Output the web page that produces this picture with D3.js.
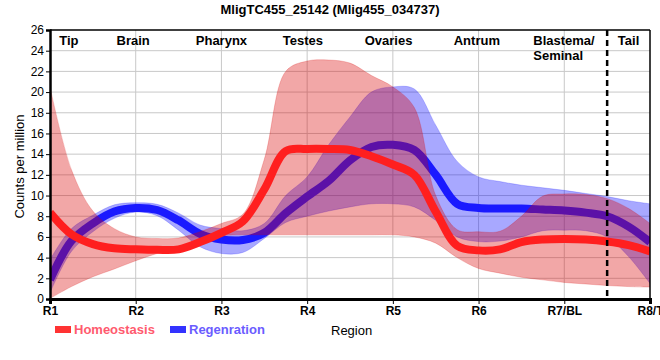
<!DOCTYPE html>
<html>
<head>
<meta charset="utf-8">
<script src="https://cdn.jsdelivr.net/npm/d3@7"></script>
<style>
  html, body { margin: 0; padding: 0; background: #fff; }
  svg { display: block; font-family: "Liberation Sans", Arial, sans-serif; }
</style>
</head>
<body>
<svg id="chart" width="660" height="360"></svg>
<script>
// ---------------- data ----------------
const title = "MligTC455_25142 (Mlig455_034737)";
const categories = ["R1", "R2", "R3", "R4", "R5", "R6", "R7/BL", "R8/T"];
const regionNames = ["Tip", "Brain", "Pharynx", "Testes", "Ovaries", "Antrum", "Blastema/|Seminal", "Tail"];
const regionAt = [0.22, 0.97, 2, 2.95, 3.95, 4.98, 6, 6.75];
const dividerAt = 6.5;
const yTicks = [0, 2, 4, 6, 8, 10, 12, 14, 16, 18, 20, 22, 24, 26];

// sample positions along the region axis (quarter steps between regions)
const samplePos = [0, 0.25, 0.5, 0.75, 1, 1.25, 1.5, 1.75, 2, 2.25, 2.5, 2.75, 3, 3.25, 3.5, 3.75,
                   4, 4.25, 4.5, 4.75, 5, 5.25, 5.5, 5.75, 6, 6.25, 6.5, 6.75, 7];

const homMean = [8.35, 6.25, 5.3, 4.9, 4.8, 4.75, 4.8, 5.5, 6.4, 7.5, 10.6, 14.3, 14.5, 14.5, 14.4, 13.8,
                 13.0, 12.0, 8.45, 5.15, 4.7, 4.8, 5.5, 5.75, 5.8, 5.75, 5.55, 5.2, 4.6];
const homLow  = [0.05, 1.2, 2.15, 2.9, 3.7, 4.4, 4.9, 5.5, 6.1, 6.2, 6.2, 6.2, 6.2, 6.2, 6.2, 6.2,
                 6.2, 6.0, 5.4, 4.0, 2.95, 2.5, 2.1, 1.85, 1.6, 1.45, 1.3, 1.2, 1.15];
const homHigh = [20.5, 12.5, 8.5, 6.8, 6.0, 5.85, 5.9, 6.5, 7.3, 8.2, 13.5, 22.0, 23.0, 23.1, 22.8, 21.6,
                 20.5, 18.5, 10.0, 6.7, 6.5, 6.55, 8.0, 9.95, 10.15, 10.1, 9.7, 8.75, 7.3];

const regMean = [1.85, 5.6, 7.3, 8.45, 8.8, 8.6, 7.6, 6.3, 5.75, 5.7, 6.4, 8.3, 9.9, 11.4, 13.4, 14.7,
                 14.9, 14.4, 12.0, 9.2, 8.8, 8.75, 8.75, 8.65, 8.55, 8.35, 8.0, 7.0, 5.5];
const regLow  = [0.6, 4.6, 6.5, 7.8, 8.4, 8.05, 6.65, 5.05, 4.4, 4.5, 5.85, 7.4, 8.0, 8.5, 8.9, 9.2,
                 9.2, 8.9, 7.6, 6.0, 5.55, 5.6, 6.0, 6.6, 6.65, 6.6, 6.0, 4.1, 1.5];
const regHigh = [3.8, 6.8, 8.1, 9.1, 9.3, 9.15, 8.3, 7.15, 6.8, 6.6, 7.3, 10.0, 11.8, 14.9, 17.6, 20.0,
                 20.5, 20.3, 16.8, 13.3, 11.8, 11.35, 11.0, 10.75, 10.5, 10.2, 9.9, 9.5, 9.2];

const seriesNames = ["Homeostasis", "Regenration"];

// ---------------- layout ----------------
const svg = d3.select("#chart");
const L = 50, R = 650, T = 30, B = 299;

const x = d3.scaleLinear().domain([0, categories.length - 1]).range([L, R]);
const y = d3.scaleLinear().domain([0, 26]).range([B, T]);

const redBand = "rgba(217,0,0,0.345)";
const blueBand = "rgba(0,0,255,0.34)";
const redLine = "#ff1f1f";
const blueLine = "#1a1aff";

// title
svg.append("text").attr("x", 330).attr("y", 14).attr("text-anchor", "middle")
  .attr("font-size", 13).attr("font-weight", "bold").text(title);

// grid
const g = svg.append("g");
g.selectAll("line.hg").data(yTicks.filter(d => d > 0 && d < 26)).join("line")
  .attr("x1", L).attr("x2", R).attr("y1", d => y(d)).attr("y2", d => y(d))
  .attr("stroke", "#c8c8c8").attr("stroke-width", 1);
g.selectAll("line.vg").data(d3.range(1, categories.length - 1)).join("line")
  .attr("x1", d => x(d)).attr("x2", d => x(d)).attr("y1", T).attr("y2", B)
  .attr("stroke", "#c8c8c8").attr("stroke-width", 1);

// clip
svg.append("clipPath").attr("id", "clip").append("rect")
  .attr("x", L).attr("y", T).attr("width", R - L).attr("height", B - T);
const plot = svg.append("g").attr("clip-path", "url(#clip)");

const pts = (arr) => arr.map((v, i) => [samplePos[i], v]);
const band = (lo, hi) => samplePos.map((p, i) => ({ p, lo: lo[i], hi: hi[i] }));
const curve = d3.curveCatmullRom.alpha(0.5);

const area = d3.area().x(d => x(d.p)).y0(d => y(d.lo)).y1(d => y(d.hi)).curve(curve);
const line = d3.line().x(d => x(d[0])).y(d => y(d[1])).curve(curve);

// blue band + line
plot.append("path").attr("d", area(band(regLow, regHigh)))
  .attr("fill", blueBand).attr("stroke", "rgba(0,0,255,0.25)").attr("stroke-width", 0.8);
plot.append("path").attr("d", line(pts(regMean)))
  .attr("fill", "none").attr("stroke", blueLine).attr("stroke-width", 8);

// red band + line
plot.append("path").attr("d", area(band(homLow, homHigh)))
  .attr("fill", redBand).attr("stroke", "rgba(217,0,0,0.25)").attr("stroke-width", 0.8);
plot.append("path").attr("d", line(pts(homMean)))
  .attr("fill", "none").attr("stroke", redLine).attr("stroke-width", 8);

// frame
svg.append("line").attr("x1", L).attr("x2", R).attr("y1", T).attr("y2", T)
  .attr("stroke", "#000").attr("stroke-width", 1.5);
svg.append("line").attr("x1", R).attr("x2", R).attr("y1", T).attr("y2", B)
  .attr("stroke", "#000").attr("stroke-width", 1.5);

// divider
svg.append("line").attr("x1", x(dividerAt)).attr("x2", x(dividerAt)).attr("y1", T).attr("y2", B)
  .attr("stroke", "#000").attr("stroke-width", 2.5).attr("stroke-dasharray", "6,4");

// axes
const yAxis = d3.axisLeft(y).tickValues(yTicks).tickSize(4).tickPadding(2);
const ya = svg.append("g").attr("transform", `translate(${L},0)`).call(yAxis);
ya.select(".domain").attr("stroke", "#000").attr("stroke-width", 2.5);
ya.selectAll("text").attr("font-size", 12).attr("font-family", "Liberation Sans, Arial, sans-serif").attr("fill", "#000");

const xAxis = d3.axisBottom(x).tickValues(d3.range(categories.length))
  .tickFormat(i => categories[i]).tickSize(5).tickPadding(2);
const xa = svg.append("g").attr("transform", `translate(0,${B})`).call(xAxis);
xa.select(".domain").attr("stroke", "#000").attr("stroke-width", 3);
xa.selectAll("text").attr("font-size", 12).attr("font-weight", "bold")
  .attr("font-family", "Liberation Sans, Arial, sans-serif").attr("fill", "#000");

// region labels
regionNames.forEach((name, i) => {
  const parts = name.split("|");
  if (parts.length > 1) {
    const t = svg.append("text").attr("x", x(regionAt[i]) - 31).attr("y", 45)
      .attr("font-size", 13).attr("font-weight", "bold");
    parts.forEach((p, k) => t.append("tspan").attr("x", x(regionAt[i]) - 31).attr("dy", k === 0 ? 0 : 15).text(p));
  } else {
    svg.append("text").attr("x", x(regionAt[i])).attr("y", 45).attr("text-anchor", "middle")
      .attr("font-size", 13).attr("font-weight", "bold").text(name);
  }
});

// axis titles
svg.append("text").attr("transform", `translate(24,${(T + B) / 2 + 2}) rotate(-90)`)
  .attr("text-anchor", "middle").attr("font-size", 13).text("Counts per million");
svg.append("text").attr("x", 331).attr("y", 335).attr("font-size", 13).text("Region");

// legend
const legendX = [55, 170];
const legendColors = ["#ff3333", "#3333ff"];
const legendText = ["#ff5a6e", "#6a5cff"];
seriesNames.forEach((n, i) => {
  svg.append("rect").attr("x", legendX[i]).attr("y", 326).attr("width", 16).attr("height", 7)
    .attr("fill", legendColors[i]);
  svg.append("text").attr("x", legendX[i] + 19).attr("y", 334).attr("font-size", 13)
    .attr("font-weight", "bold").attr("fill", legendText[i]).text(n);
});
</script>
</body>
</html>
